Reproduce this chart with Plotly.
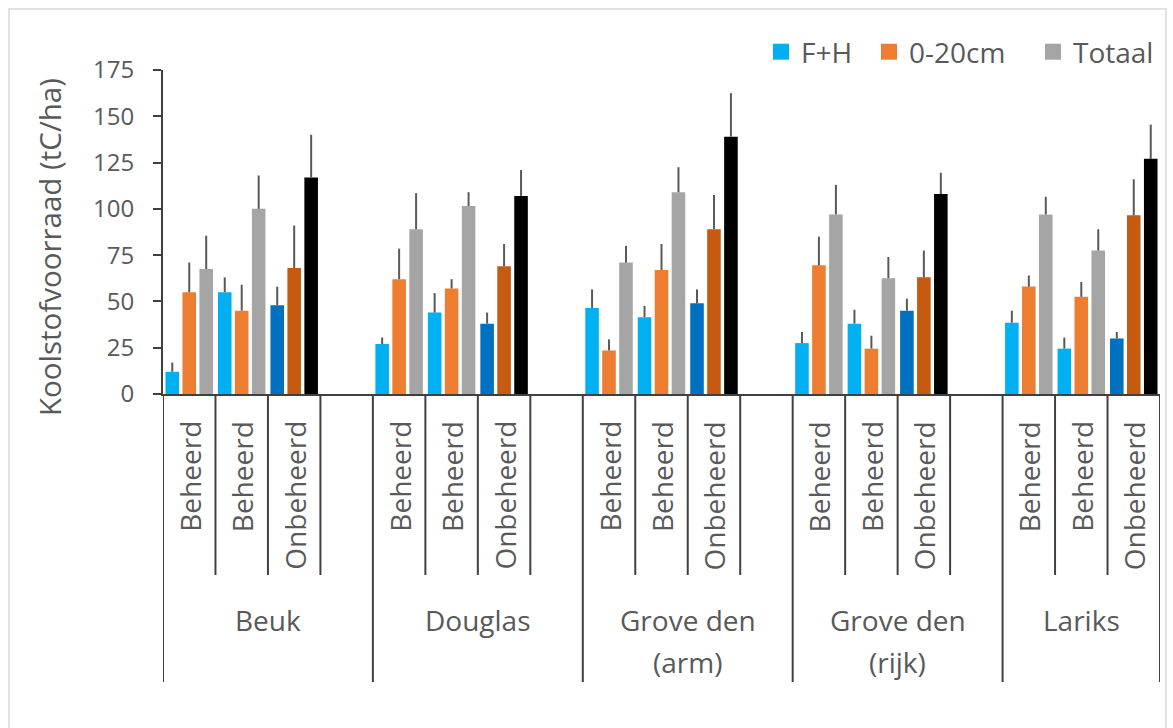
import plotly.graph_objects as go

# ---------------- data ----------------
groups = ["Beuk", "Douglas", "Grove den (arm)", "Grove den (rijk)", "Lariks"]
group_label_lines = [["Beuk"], ["Douglas"], ["Grove den", "(arm)"], ["Grove den", "(rijk)"], ["Lariks"]]
subcats = ["Beheerd", "Beheerd", "Onbeheerd"]
is_onbeheerd = [False, False, True]

series_names = ["F+H", "0-20cm", "Totaal"]

fh = [12, 55, 48, 27, 44, 38, 46.5, 41.5, 49, 27.5, 38, 45, 38.5, 24.5, 30]
fh_err = [5, 8, 10, 3.5, 10.5, 6, 10, 6, 7.5, 6, 7.5, 6.5, 6.5, 6, 3.5]
soil = [55, 45, 68, 62, 57, 69, 23.5, 67, 89, 69.5, 24.5, 63, 58, 52.5, 96.5]
soil_err = [16, 14, 23, 16.5, 5, 12, 6, 14, 18.5, 15.5, 7, 14.5, 6, 8, 19.5]
tot = [67.5, 100, 117, 89, 101.5, 107, 71, 109, 139, 97, 62.5, 108, 97, 77.5, 127]
tot_err = [18, 18, 23, 19.5, 7.5, 14, 9, 13.5, 23.5, 16, 11.5, 11.5, 9.5, 11.5, 18.5]

y_ticks = [0, 25, 50, 75, 100, 125, 150, 175]
y_title = "Koolstofvoorraad (tC/ha)"

# ---------------- styling ----------------
light_colors = ["#00B0F0", "#ED7D31", "#A5A5A5"]
dark_colors = ["#0070C0", "#C55A11", "#000000"]
text_color = "#595959"
line_color = "#404040"
FONT = "Open Sans"

W, H = 1173, 728
ML, MR, MT, MB = 163, 13, 70, 334
plot_h = H - MT - MB
plot_w = W - ML - MR


def py(px):
    """pixel row -> paper y"""
    return (H - MB - px) / plot_h


def pxx(px):
    """pixel column -> paper x"""
    return (px - ML) / plot_w


slots_per_group = len(subcats) + 1  # one spacer slot between groups
n_slots = slots_per_group * len(groups) - 1

xs = []
for g in range(len(groups)):
    for s in range(len(subcats)):
        xs.append(g * slots_per_group + s + 0.5)

values = [fh, soil, tot]
errors = [fh_err, soil_err, tot_err]
legend_ids = ["legend", "legend2", "legend3"]
legend_left_px = [761, 869, 1033]

fig = go.Figure()
for i, name in enumerate(series_names):
    cols = []
    for g in range(len(groups)):
        for s in range(len(subcats)):
            cols.append(dark_colors[i] if is_onbeheerd[s] else light_colors[i])
    fig.add_trace(go.Bar(
        name=name, x=xs, y=values[i], showlegend=False,
        marker=dict(color=cols, line=dict(width=0)),
        error_y=dict(type="data", symmetric=False, array=errors[i],
                     arrayminus=[0] * len(errors[i]),
                     color="#595959", thickness=2, width=0),
    ))
    # legend-only entry with a larger square swatch
    fig.add_trace(go.Scatter(
        name=name, x=[None], y=[None], mode="markers", legend=legend_ids[i],
        marker=dict(symbol="square", size=17, color=light_colors[i], line=dict(width=0)),
        hoverinfo="skip",
    ))

shapes = []
annotations = []
# divider lines of the multi-level category axis
for k in range(n_slots + 1):
    long = (k % slots_per_group == 0) or (k == n_slots)
    shapes.append(dict(type="line", xref="x", yref="paper", x0=k, x1=k,
                       y0=0, y1=py(682) if long else py(575),
                       line=dict(color=line_color, width=2)))

# sub-category labels
for g in range(len(groups)):
    for s, lab in enumerate(subcats):
        annotations.append(dict(text=lab, x=g * slots_per_group + s + 0.5, y=py(419),
                                xref="x", yref="paper", textangle=-90,
                                xanchor="center", yanchor="top", showarrow=False,
                                xshift=1,
                                font=dict(family=FONT, size=28, color=text_color)))
# group labels
for g, lines in enumerate(group_label_lines):
    start = g * slots_per_group
    end = min(start + slots_per_group, n_slots)
    for j, line in enumerate(lines):
        annotations.append(dict(text=line, x=(start + end) / 2, y=py(620 + 42 * j),
                                xref="x", yref="paper", xanchor="center", yanchor="middle",
                                showarrow=False,
                                font=dict(family=FONT, size=28, color=text_color)))

# y-axis title
annotations.append(dict(text=y_title, x=pxx(49), y=py(247), xref="paper", yref="paper",
                        textangle=-90, xanchor="center", yanchor="middle", showarrow=False,
                        font=dict(family=FONT, size=29.5, color=text_color)))

# chart border
shapes.append(dict(type="rect", xref="paper", yref="paper",
                   x0=pxx(9), x1=pxx(1166), y0=py(740), y1=py(9),
                   line=dict(color="#D9D9D9", width=1.5), fillcolor="rgba(0,0,0,0)", layer="below"))

legend_common = dict(orientation="h", xanchor="left", y=py(52), yanchor="middle",
                     font=dict(family=FONT, size=28, color=text_color),
                     bgcolor="rgba(0,0,0,0)", itemsizing="trace")

fig.update_layout(
    width=W, height=H,
    margin=dict(l=ML, r=MR, t=MT, b=MB),
    paper_bgcolor="white", plot_bgcolor="white",
    barmode="group", bargap=0.03, bargroupgap=0.2,
    font=dict(family=FONT, color=text_color),
    showlegend=True,
    legend=dict(x=pxx(legend_left_px[0]), **legend_common),
    legend2=dict(x=pxx(legend_left_px[1]), **legend_common),
    legend3=dict(x=pxx(legend_left_px[2]), **legend_common),
    xaxis=dict(range=[0, n_slots], showline=True, linecolor=line_color, linewidth=2,
               showticklabels=False, ticks="", showgrid=False, zeroline=False, fixedrange=True),
    yaxis=dict(range=[0, 175], tickvals=y_ticks, showline=True, linecolor=line_color,
               linewidth=2, ticks="outside", ticklen=8, tickwidth=2, tickcolor=line_color,
               showgrid=False, zeroline=False, ticklabelstandoff=14,
               tickfont=dict(family=FONT, size=24, color=text_color)),
    shapes=shapes,
    annotations=annotations,
)

fig.write_html("out.html")
